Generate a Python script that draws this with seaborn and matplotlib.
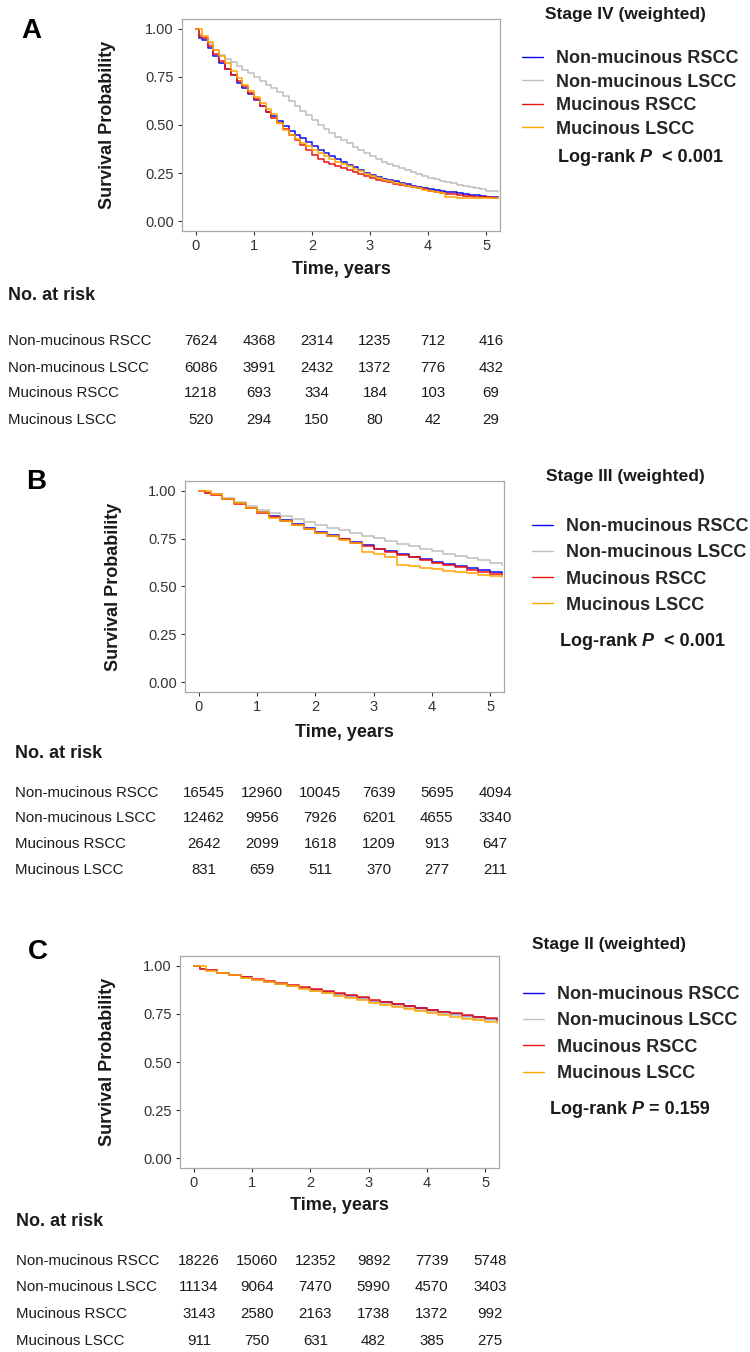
import numpy as np
import pandas as pd
import matplotlib
matplotlib.use("Agg")
import matplotlib.pyplot as plt
import seaborn as sns
from matplotlib.lines import Line2D
from matplotlib.transforms import blended_transform_factory, offset_copy

# ---------------- data ----------------
groups = ["Non-mucinous RSCC", "Non-mucinous LSCC", "Mucinous RSCC", "Mucinous LSCC"]
colors = ["#0A0AF0", "#BEBEBE", "#EE1111", "#FFA500"]
risk_times = [0, 1, 2, 3, 4, 5]
y_ticks = [0.00, 0.25, 0.50, 0.75, 1.00]

# Panel A : Stage IV
time_A = [0, 0.05, 0.1, 0.2, 0.3, 0.4, 0.5, 0.6, 0.7, 0.8, 0.9, 1.0,
          1.1, 1.2, 1.3, 1.4, 1.5, 1.6, 1.7, 1.8, 1.9, 2.0,
          2.1, 2.2, 2.3, 2.4, 2.5, 2.6, 2.7, 2.8, 2.9, 3.0,
          3.1, 3.2, 3.3, 3.4, 3.5, 3.6, 3.7, 3.8, 3.9, 4.0,
          4.1, 4.2, 4.3, 4.4, 4.5, 4.6, 4.7, 4.8, 4.9, 5.0, 5.1, 5.2]
surv_A_nm_rscc = [1.0, 0.95, 0.94, 0.90, 0.86, 0.82, 0.79, 0.76, 0.72, 0.69, 0.66, 0.63,
                  0.60, 0.57, 0.545, 0.52, 0.495, 0.47, 0.45, 0.43, 0.41, 0.39,
                  0.372, 0.355, 0.34, 0.325, 0.31, 0.295, 0.28, 0.265, 0.252, 0.24,
                  0.231, 0.222, 0.214, 0.207, 0.2, 0.193, 0.186, 0.18, 0.174, 0.168,
                  0.163, 0.158, 0.154, 0.15, 0.146, 0.142, 0.138, 0.135, 0.132, 0.129, 0.126, 0.124]
surv_A_nm_lscc = [1.0, 0.97, 0.95, 0.92, 0.89, 0.865, 0.845, 0.825, 0.805, 0.785, 0.77, 0.75,
                  0.73, 0.71, 0.69, 0.67, 0.65, 0.625, 0.60, 0.575, 0.55, 0.525,
                  0.502, 0.48, 0.46, 0.44, 0.422, 0.405, 0.387, 0.37, 0.354, 0.338,
                  0.324, 0.31, 0.297, 0.285, 0.275, 0.265, 0.255, 0.245, 0.235, 0.226,
                  0.219, 0.212, 0.205, 0.198, 0.191, 0.185, 0.179, 0.173, 0.166, 0.16, 0.155, 0.15]
surv_A_m_rscc = [1.0, 0.96, 0.95, 0.91, 0.87, 0.83, 0.79, 0.76, 0.73, 0.70, 0.665, 0.635,
                 0.60, 0.565, 0.535, 0.51, 0.48, 0.45, 0.42, 0.395, 0.37, 0.345,
                 0.326, 0.31, 0.297, 0.285, 0.275, 0.265, 0.255, 0.245, 0.235, 0.225,
                 0.217, 0.21, 0.202, 0.195, 0.189, 0.183, 0.177, 0.172, 0.166, 0.16,
                 0.154, 0.148, 0.144, 0.14, 0.136, 0.133, 0.13, 0.128, 0.126, 0.125, 0.123, 0.122]
surv_A_m_lscc = [1.0, 1.0, 0.96, 0.93, 0.89, 0.86, 0.82, 0.78, 0.745, 0.71, 0.675, 0.645,
                 0.615, 0.585, 0.555, 0.51, 0.475, 0.45, 0.425, 0.405, 0.39, 0.372,
                 0.356, 0.34, 0.325, 0.31, 0.297, 0.285, 0.272, 0.26, 0.247, 0.235,
                 0.225, 0.215, 0.207, 0.2, 0.192, 0.185, 0.178, 0.172, 0.165, 0.158,
                 0.152, 0.145, 0.128, 0.125, 0.123, 0.122, 0.121, 0.12, 0.12, 0.12, 0.12, 0.12]
risk_A = [[7624, 4368, 2314, 1235, 712, 416],
          [6086, 3991, 2432, 1372, 776, 432],
          [1218, 693, 334, 184, 103, 69],
          [520, 294, 150, 80, 42, 29]]

# Panel B : Stage III
time_B = [0, 0.1, 0.2, 0.4, 0.6, 0.8, 1.0, 1.2, 1.4, 1.6, 1.8, 2.0, 2.2, 2.4,
          2.6, 2.8, 3.0, 3.2, 3.4, 3.6, 3.8, 4.0, 4.2, 4.4, 4.6, 4.8, 5.0, 5.2]
surv_B_nm_rscc = [1.0, 0.99, 0.98, 0.955, 0.935, 0.91, 0.888, 0.865, 0.845, 0.825, 0.805, 0.785,
                  0.768, 0.75, 0.732, 0.715, 0.698, 0.683, 0.668, 0.655, 0.642, 0.63,
                  0.618, 0.606, 0.596, 0.586, 0.577, 0.568]
surv_B_nm_lscc = [1.0, 0.99, 0.98, 0.96, 0.94, 0.92, 0.90, 0.885, 0.869, 0.853, 0.838, 0.822,
                  0.807, 0.793, 0.779, 0.765, 0.752, 0.738, 0.724, 0.711, 0.698, 0.685,
                  0.672, 0.66, 0.648, 0.636, 0.624, 0.612]
surv_B_m_rscc = [1.0, 0.99, 0.978, 0.955, 0.932, 0.908, 0.885, 0.862, 0.841, 0.82, 0.80, 0.78,
                 0.763, 0.746, 0.729, 0.712, 0.696, 0.681, 0.666, 0.652, 0.638, 0.625,
                 0.612, 0.6, 0.588, 0.577, 0.567, 0.558]
surv_B_m_lscc = [1.0, 1.0, 0.98, 0.955, 0.935, 0.91, 0.888, 0.858, 0.84, 0.82, 0.798, 0.78,
                 0.763, 0.745, 0.728, 0.68, 0.67, 0.655, 0.612, 0.605, 0.598, 0.59,
                 0.583, 0.576, 0.568, 0.56, 0.555, 0.551]
risk_B = [[16545, 12960, 10045, 7639, 5695, 4094],
          [12462, 9956, 7926, 6201, 4655, 3340],
          [2642, 2099, 1618, 1209, 913, 647],
          [831, 659, 511, 370, 277, 211]]

# Panel C : Stage II
time_C = [0, 0.1, 0.2, 0.4, 0.6, 0.8, 1.0, 1.2, 1.4, 1.6, 1.8, 2.0, 2.2, 2.4,
          2.6, 2.8, 3.0, 3.2, 3.4, 3.6, 3.8, 4.0, 4.2, 4.4, 4.6, 4.8, 5.0, 5.2]
surv_C_nm_rscc = [1.0, 0.985, 0.975, 0.961, 0.950, 0.939, 0.928, 0.917, 0.907, 0.896, 0.885, 0.874,
                  0.863, 0.852, 0.841, 0.830, 0.819, 0.809, 0.799, 0.788, 0.778, 0.768,
                  0.759, 0.750, 0.741, 0.733, 0.725, 0.718]
surv_C_nm_lscc = [1.0, 0.985, 0.975, 0.960, 0.949, 0.938, 0.926, 0.915, 0.904, 0.893, 0.882, 0.870,
                  0.859, 0.848, 0.837, 0.825, 0.814, 0.803, 0.792, 0.782, 0.772, 0.762,
                  0.752, 0.743, 0.734, 0.725, 0.717, 0.710]
surv_C_m_rscc = [1.0, 0.985, 0.976, 0.962, 0.952, 0.941, 0.930, 0.920, 0.910, 0.900, 0.889, 0.878,
                 0.868, 0.857, 0.846, 0.835, 0.823, 0.812, 0.801, 0.790, 0.780, 0.770,
                 0.761, 0.752, 0.743, 0.735, 0.727, 0.720]
surv_C_m_lscc = [1.0, 1.0, 0.974, 0.960, 0.949, 0.938, 0.926, 0.915, 0.904, 0.892, 0.880, 0.868,
                 0.856, 0.845, 0.833, 0.820, 0.808, 0.797, 0.786, 0.775, 0.764, 0.754,
                 0.744, 0.734, 0.725, 0.716, 0.708, 0.701]
risk_C = [[18226, 15060, 12352, 9892, 7739, 5748],
          [11134, 9064, 7470, 5990, 4570, 3403],
          [3143, 2580, 2163, 1738, 1372, 992],
          [911, 750, 631, 482, 385, 275]]

panels = [
    dict(letter="A", title="Stage IV (weighted)", p_op="  < 0.001",
         time=time_A, surv=[surv_A_nm_rscc, surv_A_nm_lscc, surv_A_m_rscc, surv_A_m_lscc], risk=risk_A,
         box=(182, 19, 500, 231), let=(31, 31), ylab_x=108, xlab_y=270,
         title_xy=(545, 15), leg_xy=(522, 94), leg_sp=0.36, lr_xy=(558, 157),
         rt_xy=(8, 296), rows=[341, 368, 393, 420]),
    dict(letter="B", title="Stage III (weighted)", p_op="  < 0.001",
         time=time_B, surv=[surv_B_nm_rscc, surv_B_nm_lscc, surv_B_m_rscc, surv_B_m_lscc], risk=risk_B,
         box=(185, 481, 504, 692), let=(36, 482), ylab_x=114, xlab_y=733,
         title_xy=(546, 477), leg_xy=(532, 566), leg_sp=0.5, lr_xy=(560, 642),
         rt_xy=(15, 753), rows=[793, 818, 844, 870]),
    dict(letter="C", title="Stage II (weighted)", p_op=" = 0.159",
         time=time_C, surv=[surv_C_nm_rscc, surv_C_nm_lscc, surv_C_m_rscc, surv_C_m_lscc], risk=risk_C,
         box=(180, 956, 499, 1168), let=(38, 952), ylab_x=107, xlab_y=1206,
         title_xy=(532, 945), leg_xy=(523, 1034), leg_sp=0.52, lr_xy=(550, 1110),
         rt_xy=(16, 1221), rows=[1261, 1287, 1314, 1341]),
]

# ---------------- style ----------------
sns.set_theme(style="white")
plt.rcParams["font.family"] = ["Liberation Sans", "DejaVu Sans"]

W, H = 750, 1352
fig = plt.figure(figsize=(W / 100, H / 100), dpi=100)
fx = lambda px: px / W
fy = lambda py: 1 - py / H

palette = dict(zip(groups, colors))
txt_col = "#1a1a1a"

for P in panels:
    x0, y0, x1, y1 = P["box"]
    ax = fig.add_axes([fx(x0), fy(y1), (x1 - x0) / W, (y1 - y0) / H])
    frames = []
    for g, s in zip(groups, P["surv"]):
        frames.append(pd.DataFrame({"time": P["time"], "surv": s, "group": g}))
    df = pd.concat(frames, ignore_index=True)
    sns.lineplot(data=df, x="time", y="surv", hue="group", hue_order=groups,
                 palette=palette, drawstyle="steps-post", linewidth=1.1,
                 errorbar=None, estimator=None, legend=False, ax=ax)
    ax.set_xlim(-0.24, 5.24)
    ax.set_ylim(-0.05, 1.05)
    ax.set_xticks(risk_times)
    ax.set_yticks(y_ticks)
    ax.set_yticklabels([f"{v:.2f}" for v in y_ticks])
    ax.tick_params(axis="both", which="major", length=3, width=0.8, color="#333333",
                   labelsize=10.5, labelcolor="#333333", pad=3, bottom=True, left=True)
    for sp in ax.spines.values():
        sp.set_visible(True)
        sp.set_color("#A8A8A8")
        sp.set_linewidth(0.9)
    ax.set_xlabel("Time, years", fontsize=13, fontweight="bold", color=txt_col)
    ax.set_ylabel("Survival Probability", fontsize=13, fontweight="bold", color=txt_col)
    ax.xaxis.label.set_va("center")
    ax.yaxis.label.set_va("center")
    ax.xaxis.set_label_coords(0.5, (y1 - P["xlab_y"]) / (y1 - y0))
    ax.yaxis.set_label_coords((P["ylab_x"] - x0) / (x1 - x0), 0.5)

    # panel letter
    fig.text(fx(P["let"][0]), fy(P["let"][1]), P["letter"], fontsize=20, fontweight="bold",
             ha="center", va="center", color="black")

    # legend title
    fig.text(fx(P["title_xy"][0]), fy(P["title_xy"][1]), P["title"], fontsize=12.5,
             fontweight="bold", ha="left", va="center", color=txt_col)
    handles = [Line2D([0], [0], color=c, lw=1.0) for c in colors]
    fig.legend(handles, groups, loc="center left",
               bbox_to_anchor=(fx(P["leg_xy"][0]), fy(P["leg_xy"][1])),
               bbox_transform=fig.transFigure, frameon=False, borderpad=0, borderaxespad=0,
               handlelength=1.15, handletextpad=0.72, labelspacing=P["leg_sp"],
               prop=dict(size=13, weight="bold"))

    # log-rank text
    t1 = fig.text(fx(P["lr_xy"][0]), fy(P["lr_xy"][1]), "Log-rank ", fontsize=13,
                  fontweight="bold", ha="left", va="center", color=txt_col)
    t2 = ax.annotate("P", xy=(1, 0), xycoords=t1, ha="left", va="bottom", fontsize=13,
                     fontweight="bold", fontstyle="italic", color=txt_col, annotation_clip=False)
    ax.annotate(P["p_op"], xy=(1, 0), xycoords=t2, ha="left", va="bottom", fontsize=13,
                fontweight="bold", color=txt_col, annotation_clip=False)

    # risk table
    fig.text(fx(P["rt_xy"][0]), fy(P["rt_xy"][1]), "No. at risk", fontsize=13,
             fontweight="bold", ha="left", va="center", color=txt_col)
    trans = offset_copy(blended_transform_factory(ax.transData, fig.transFigure),
                        fig=fig, x=5, y=0, units="dots")
    for g, row_y, counts in zip(groups, P["rows"], P["risk"]):
        fig.text(fx(P["rt_xy"][0]), fy(row_y), g, fontsize=10.8, ha="left", va="center",
                 color=txt_col)
        for t, n in zip(risk_times, counts):
            fig.text(t, fy(row_y), str(n), transform=trans, fontsize=10.8, ha="center",
                     va="center", color=txt_col)

fig.savefig("out.png", dpi=100, facecolor="white")
